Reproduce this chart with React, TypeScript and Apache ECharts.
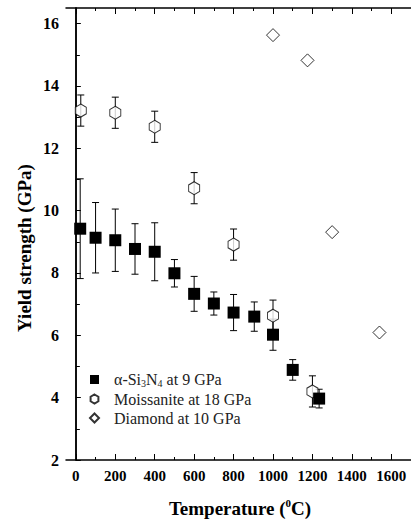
import React, { useEffect, useRef } from "react";
import * as echarts from "echarts";

const siTemp = [22, 100, 200, 300, 400, 500, 600, 700, 800, 905, 1000, 1100, 1234];
const siYield = [9.42, 9.13, 9.05, 8.77, 8.68, 7.99, 7.33, 7.02, 6.73, 6.6, 6.02, 4.89, 3.97];
const siErr = [1.6, 1.13, 1.0, 0.81, 0.93, 0.44, 0.56, 0.37, 0.58, 0.47, 0.5, 0.33, 0.3];

const moTemp = [25, 200, 400, 600, 800, 1000, 1200];
const moYield = [13.21, 13.14, 12.69, 10.72, 8.91, 6.63, 4.2];
const moErr = [0.5, 0.5, 0.5, 0.5, 0.5, 0.5, 0.5];

const diTemp = [1000, 1175, 1300, 1540];
const diYield = [15.63, 14.82, 9.31, 6.09];

const xMajor = [0, 200, 400, 600, 800, 1000, 1200, 1400, 1600];
const xMinor = [100, 300, 500, 700, 900, 1100, 1300, 1500, 1700];
const yMajor = [2, 4, 6, 8, 10, 12, 14, 16];
const yMinor = [3, 5, 7, 9, 11, 13, 15];

const seriesNames = ["α-Si3N4 at 9 GPa", "Moissanite at 18 GPa", "Diamond at 10 GPa"];

const FONT = "Liberation Serif";
const HEX = "path://M0,-1 L0.866,-0.5 L0.866,0.5 L0,1 L-0.866,0.5 L-0.866,-0.5 Z";

const X_MIN = -50;
const X_MAX = 1700;
const Y_MIN = 2;
const Y_MAX = 16.5;

function errRender(params: any, api: any) {
  const x = api.value(0);
  const y = api.value(1);
  const e = api.value(2);
  const hi = api.coord([x, y + e]);
  const lo = api.coord([x, y - e]);
  const cap = 3.5;
  const style = { stroke: "#000", lineWidth: 1 };
  return {
    type: "group",
    children: [
      { type: "line", shape: { x1: hi[0], y1: hi[1], x2: lo[0], y2: lo[1] }, style },
      { type: "line", shape: { x1: hi[0] - cap, y1: hi[1], x2: hi[0] + cap, y2: hi[1] }, style },
      { type: "line", shape: { x1: lo[0] - cap, y1: lo[1], x2: lo[0] + cap, y2: lo[1] }, style },
    ],
  };
}

export default function App() {
  const ref = useRef<HTMLDivElement>(null);
  useEffect(() => {
    if (!ref.current) return;
    document.body.style.margin = "0";
    const chart = echarts.init(ref.current, null, { renderer: "svg" });

    const axisLine = { show: true, lineStyle: { color: "#000", width: 1.5 } };
    const xBase = { type: "value", min: X_MIN, max: X_MAX, splitLine: { show: false } };
    const yBase = { type: "value", min: Y_MIN, max: Y_MAX, splitLine: { show: false } };
    const tickStyle = { color: "#000", width: 1 };

    const option: any = {
      animation: false,
      backgroundColor: "#fff",
      textStyle: { fontFamily: FONT },
      grid: { left: 66, top: 8, width: 347, height: 452 },
      xAxis: [
        {
          ...xBase,
          position: "bottom",
          axisLine,
          axisTick: { show: true, inside: true, length: 6, customValues: xMajor, lineStyle: tickStyle },
          axisLabel: {
            show: true,
            customValues: xMajor,
            formatter: (v: number) => String(v),
            margin: 8,
            color: "#000",
            fontFamily: FONT,
            fontWeight: "bold",
            fontSize: 15,
          },
        },
        {
          ...xBase,
          position: "bottom",
          axisLine: { show: false },
          axisTick: { show: true, inside: true, length: 3, customValues: xMinor, lineStyle: tickStyle },
          axisLabel: { show: false },
        },
        {
          ...xBase,
          position: "top",
          axisLine,
          axisTick: { show: true, inside: true, length: 6, customValues: xMajor, lineStyle: tickStyle },
          axisLabel: { show: false },
        },
        {
          ...xBase,
          position: "top",
          axisLine: { show: false },
          axisTick: { show: true, inside: true, length: 3, customValues: xMinor, lineStyle: tickStyle },
          axisLabel: { show: false },
        },
      ],
      yAxis: [
        {
          ...yBase,
          position: "left",
          axisLine,
          axisTick: { show: true, inside: true, length: 5, customValues: yMajor, lineStyle: tickStyle },
          axisLabel: {
            show: true,
            customValues: yMajor,
            formatter: (v: number) => String(v),
            margin: 7,
            color: "#000",
            fontFamily: FONT,
            fontWeight: "bold",
            fontSize: 16,
          },
        },
        {
          ...yBase,
          position: "left",
          axisLine: { show: false },
          axisTick: { show: true, inside: true, length: 4, customValues: yMinor, lineStyle: tickStyle },
          axisLabel: { show: false },
        },
        {
          ...yBase,
          position: "right",
          axisLine,
          axisTick: { show: false },
          axisLabel: { show: false },
        },
      ],
      legend: {
        orient: "vertical",
        left: 89,
        top: 370,
        padding: 0,
        itemWidth: 9,
        itemHeight: 9,
        itemGap: 3,
        symbolKeepAspect: true,
        data: seriesNames,
        formatter: (name: string) => {
          if (name === seriesNames[0]) {
            return "{t|α-Si}{s|3}{t|N}{s|4}{t| at 9 GPa}";
          }
          return "{t|" + name + "}";
        },
        textStyle: {
          color: "#222",
          fontFamily: FONT,
          fontSize: 16,
          padding: [0, 0, 0, 10],
          rich: {
            t: { fontFamily: FONT, fontSize: 16, lineHeight: 17, color: "#222" },
            s: { fontFamily: FONT, fontSize: 10, lineHeight: 9, color: "#222", verticalAlign: "bottom", padding: [8, 0, 0, 0] },
          },
        },
      },
      graphic: [
        {
          type: "text",
          x: 24,
          y: 248,
          rotation: Math.PI / 2,
          style: {
            text: "Yield strength (GPa)",
            fontFamily: FONT,
            fontWeight: "bold",
            fontSize: 19,
            fill: "#000",
            align: "center",
            verticalAlign: "middle",
          },
        },
        {
          type: "text",
          x: 240,
          y: 508,
          style: {
            text: "{m|Temperature (}{p|0}{m|C)}",
            fontFamily: FONT,
            fill: "#000",
            align: "center",
            verticalAlign: "middle",
            rich: {
              m: { fontFamily: FONT, fontWeight: "bold", fontSize: 19, lineHeight: 22, fill: "#000" },
              p: { fontFamily: FONT, fontWeight: "bold", fontSize: 11, lineHeight: 11, fill: "#000", verticalAlign: "top" },
            },
          },
        },
      ],
      series: [
        {
          type: "custom",
          name: "moErr",
          xAxisIndex: 0,
          yAxisIndex: 0,
          renderItem: errRender,
          data: moTemp.map((t, i) => [t, moYield[i], moErr[i]]),
          encode: { x: 0, y: 1 },
          z: 1,
        },
        {
          type: "custom",
          name: "siErr",
          xAxisIndex: 0,
          yAxisIndex: 0,
          renderItem: errRender,
          data: siTemp.map((t, i) => [t, siYield[i], siErr[i]]),
          encode: { x: 0, y: 1 },
          z: 1,
        },
        {
          type: "scatter",
          name: seriesNames[1],
          xAxisIndex: 0,
          yAxisIndex: 0,
          symbol: HEX,
          symbolSize: [11, 13],
          itemStyle: { color: "#fff", borderColor: "#000", borderWidth: 1 },
          data: moTemp.map((t, i) => [t, moYield[i]]),
          z: 2,
        },
        {
          type: "scatter",
          name: seriesNames[0],
          xAxisIndex: 0,
          yAxisIndex: 0,
          symbol: "rect",
          symbolSize: 12,
          itemStyle: { color: "#000", opacity: 1 },
          data: siTemp.map((t, i) => [t, siYield[i]]),
          z: 3,
        },
        {
          type: "scatter",
          name: seriesNames[2],
          xAxisIndex: 0,
          yAxisIndex: 0,
          symbol: "diamond",
          symbolSize: 13,
          itemStyle: { color: "#fff", borderColor: "#000", borderWidth: 1 },
          data: diTemp.map((t, i) => [t, diYield[i]]),
          z: 3,
        },
      ],
    };
    chart.setOption(option);
    return () => chart.dispose();
  }, []);
  return <div ref={ref} style={{ width: 411, height: 522, position: "absolute", left: 0, top: 0 }} />;
}
